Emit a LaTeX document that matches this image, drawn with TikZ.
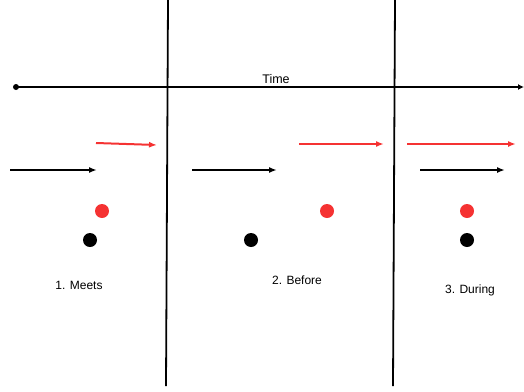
\documentclass[tikz,border=0pt]{standalone}
\usepackage{fontspec}
\setmainfont{Liberation Sans}
\usetikzlibrary{arrows.meta}
\definecolor{ivred}{RGB}{245,50,50}
\tikzset{
  bar/.style={line width=1.8pt},
  ivarrow/.style={line width=2pt,-{Latex[length=8pt,width=6pt]}},
  ivdot/.style={circle,inner sep=0pt,minimum size=14pt},
  caption/.style={font=\fontsize{12}{14}\selectfont,inner sep=0pt}
}
\begin{document}
\begin{tikzpicture}[x=1pt,y=-1pt]
      \useasboundingbox (0,0) rectangle (524,391);
      % time axis
      \fill (16,87) circle (3pt);
      \coordinate (t0) at (16,87);
      \coordinate (t1) at (524,87);
      \draw[bar,-{Latex[length=6pt,width=6pt]}] (t0) -- (t1);
      \node[caption,font=\fontsize{12.5}{14}\selectfont] (time) at (276,79) {Time};
      % separators
      \coordinate (s1a) at (168,0);
      \coordinate (s1b) at (166,386);
      \coordinate (s2a) at (395,0);
      \coordinate (s2b) at (393,386);
      \draw[bar] (s1a) -- (s1b);
      \draw[bar] (s2a) -- (s2b);
      % 1. meets
      \coordinate (m1) at (96,143);
      \coordinate (m2) at (157,145);
      \coordinate (m3) at (10,170);
      \coordinate (m4) at (97,170);
      \draw[ivarrow,ivred] (m1) -- (m2);
      \draw[ivarrow] (m3) -- (m4);
      \node[ivdot,fill=ivred] (mr) at (102,211) {};
      \node[ivdot,fill=black] (mb) at (90,240) {};
      \node[caption] (meets) at (79,285) {1. Meets};
      % 2. before
      \coordinate (b1) at (299,144);
      \coordinate (b2) at (384,144);
      \coordinate (b3) at (192,170);
      \coordinate (b4) at (277,170);
      \draw[ivarrow,ivred] (b1) -- (b2);
      \draw[ivarrow] (b3) -- (b4);
      \node[ivdot,fill=ivred] (br) at (327,211) {};
      \node[ivdot,fill=black] (bb) at (251,240) {};
      \node[caption] (before) at (297,280) {2. Before};
      % 3. during
      \coordinate (d1) at (407,144);
      \coordinate (d2) at (516,144);
      \coordinate (d3) at (420,170);
      \coordinate (d4) at (505,170);
      \draw[ivarrow,ivred] (d1) -- (d2);
      \draw[ivarrow] (d3) -- (d4);
      \node[ivdot,fill=ivred] (dr) at (467,211) {};
      \node[ivdot,fill=black] (db) at (467,240) {};
      \node[caption] (during) at (470,290) {3. During};
    \end{tikzpicture}
\end{document}
